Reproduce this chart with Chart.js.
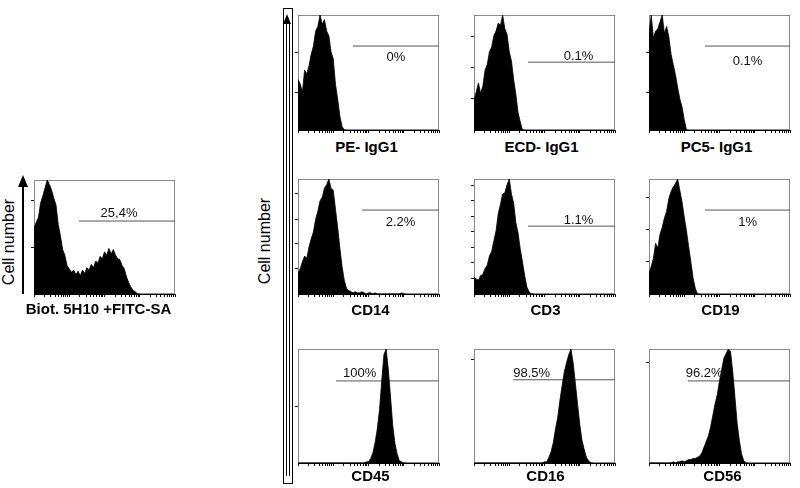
<!DOCTYPE html>
<html lang="en">
<head>
<meta charset="UTF-8">
<title>5H10 staining histograms</title>
<script src="https://cdn.jsdelivr.net/npm/chart.js@4.4.0/dist/chart.umd.min.js"></script>
<style>
  body { margin: 0; background: #fff; font-family: "Liberation Sans", Arial, sans-serif; color: #000; }
  #fig { position: relative; width: 800px; height: 488px; overflow: hidden; background: #fff; }
  canvas { position: absolute; }
  .xlab { position: absolute; font-size: 15px; font-weight: bold; white-space: nowrap; transform: translateX(-50%); line-height: 16px; }
  .ylab { position: absolute; font-size: 16px; white-space: nowrap; line-height: 16px; transform: translate(-50%, -50%) rotate(-90deg); }
  .blk { position: absolute; background: #000; }
  .head { position: absolute; width: 0; height: 0; border-left: 5px solid transparent; border-right: 5px solid transparent; border-bottom: 12px solid #000; }
  .box { position: absolute; border: 1.5px solid #000; box-sizing: border-box; }
  .shaft { position: absolute; border-left: 1px solid #000; border-right: 1px solid #000; box-sizing: border-box; }
</style>
</head>
<body>
<div id="fig">
  <div class="ylab" style="left:9px; top:242px;">Cell number</div>
  <div class="head" style="left:18px; top:175px;"></div>
  <div class="blk" style="left:22px; top:186px; width:2px; height:108px;"></div>

  <div class="ylab" style="left:265px; top:241px;">Cell number</div>
  <div class="box" style="left:283px; top:8px; width:10px; height:476px;"></div>
  <div class="head" style="left:283px; top:14px; border-left-width:4.5px; border-right-width:4.5px; border-bottom-width:10px;"></div>
  <div class="shaft" style="left:286px; top:24px; width:4px; height:452px;"></div>
</div>
<script>
// histogram counts per log channel bin (16 bins per decade, 4 decades), scaled to peak = 100
const hLeft = [58, 63, 67, 80, 86, 93, 100, 96, 91, 84, 78, 61, 51, 39, 34, 25, 22, 19, 21, 17, 20, 16, 21, 18, 23, 21, 26, 23, 29, 27, 33, 31, 37, 34, 40, 35, 39, 34, 31, 30, 25, 22, 15, 10, 6, 3, 2, 0];
const hPE = [44, 40, 33, 52, 49, 56, 66, 73, 86, 90, 100, 92, 96, 86, 82, 68, 62, 40, 27, 12, 3, 0];
const hECD = [26, 33, 41, 32, 38, 52, 57, 68, 72, 82, 86, 93, 91, 100, 88, 83, 68, 60, 44, 31, 15, 7, 0];
const hPC5 = [84, 100, 80, 86, 88, 94, 100, 84, 90, 81, 66, 57, 48, 37, 27, 20, 9, 0];
const hCD14 = [18, 22, 28, 33, 31, 41, 48, 54, 65, 72, 81, 84, 92, 95, 100, 92, 90, 74, 58, 40, 24, 12, 5, 3, 2, 1, 2, 1, 1, 2, 1, 0, 1, 1, 0, 1, 0, 0, 0, 0, 0, 0, 0, 0, 0, 0, 0, 1, 0];
const hCD3 = [15, 13, 12, 16, 17, 22, 25, 33, 37, 46, 55, 70, 78, 87, 88, 95, 100, 87, 79, 62, 53, 39, 28, 16, 6, 2, 0];
const hCD19 = [18, 24, 31, 44, 40, 52, 58, 66, 72, 83, 89, 93, 96, 100, 90, 80, 67, 55, 41, 28, 14, 5, 0];
const hCD45 = [0, 0, 0, 0, 0, 0, 0, 0, 0, 0, 0, 0, 0, 0, 0, 0, 0, 0, 0, 0, 0, 0, 0, 0, 0, 0, 0, 0, 0, 0, 0, 1, 1, 4, 9, 18, 30, 47, 72, 95, 100, 82, 58, 33, 17, 8, 2, 1, 0];
const hCD16 = [0, 0, 0, 0, 0, 0, 0, 0, 0, 0, 0, 0, 0, 0, 0, 0, 0, 0, 0, 0, 0, 0, 0, 0, 0, 0, 0, 0, 0, 0, 0, 0, 1, 1, 5, 10, 18, 30, 40, 55, 68, 80, 88, 95, 100, 88, 70, 52, 34, 20, 12, 5, 2, 0];
const hCD56 = [0, 0, 0, 0, 0, 0, 0, 0, 0, 0, 0, 1, 0, 1, 1, 2, 1, 2, 3, 3, 4, 4, 5, 6, 9, 14, 19, 24, 32, 42, 52, 60, 72, 82, 92, 96, 100, 98, 80, 58, 35, 20, 8, 2, 0];

const markers = ['Biot. 5H10 +FITC-SA', 'PE- IgG1', 'ECD- IgG1', 'PC5- IgG1', 'CD14', 'CD3', 'CD19', 'CD45', 'CD16', 'CD56'];
const percents = ['25,4%', '0%', '0.1%', '0.1%', '2.2%', '1.1%', '1%', '100%', '98.5%', '96.2%'];
const gateStarts = [19, 36, 34, 39, 66, 34, 39, 12, 13, 12.6];   // fluorescence value where the marker starts
const gateLevels = [64, 73, 59, 73, 73, 59, 73, 72, 73, 72];     // height of marker line (% of peak)
const yTickSets = [[41, 82], [33, 67], [27, 54, 81], [33, 67], [22, 44, 65, 87],
  [13.5, 27, 40.5, 54, 67.5, 81, 94.5], [28, 56, 84], [50], [91], [88]];
const xTickValues = [1, 2, 3, 4, 5, 6, 7, 8, 9, 10, 20, 30, 40, 50, 60, 70, 80, 90,
  100, 200, 300, 400, 500, 600, 700, 800, 900, 1000, 2000, 3000, 4000, 5000, 6000, 7000, 8000, 9000, 10000];
const hists = [hLeft, hPE, hECD, hPC5, hCD14, hCD3, hCD19, hCD45, hCD16, hCD56];
const BINS_PER_DECADE = 16;

// layout: plot area boxes and label placement
const boxes = [
  { l: 34, t: 180, w: 141, h: 114, labY: 301, labDx: -6 },
  { l: 298, t: 15, w: 141, h: 115, labY: 139, labDx: -2 },
  { l: 474, t: 15, w: 141, h: 115, labY: 139, labDx: -3 },
  { l: 649, t: 15, w: 141, h: 115, labY: 139, labDx: -3 },
  { l: 298, t: 179, w: 141, h: 115, labY: 302, labDx: 2 },
  { l: 474, t: 179, w: 141, h: 115, labY: 302, labDx: 1 },
  { l: 649, t: 179, w: 141, h: 115, labY: 302, labDx: 1 },
  { l: 298, t: 349, w: 141, h: 114, labY: 468, labDx: 2 },
  { l: 474, t: 349, w: 141, h: 114, labY: 468, labDx: 1 },
  { l: 649, t: 349, w: 141, h: 114, labY: 468, labDx: 3 }
];
const labelStyles = [
  { align: 'center', dx: -8, dy: -8 },
  { align: 'center', dx: 0, dy: 11 },
  { align: 'center', dx: 7, dy: -6 },
  { align: 'center', dx: 0, dy: 15 },
  { align: 'center', dx: 0, dy: 12 },
  { align: 'center', dx: 7, dy: -6 },
  { align: 'center', dx: 0, dy: 12 },
  { align: 'left', dx: 7, dy: -7 },
  { align: 'left', dx: 0, dy: -6 },
  { align: 'left', dx: -2, dy: -7 }
];

const PAD_L = 8, PAD_T = 4, PAD_R = 4, PAD_B = 8;

const framePlugin = {
  id: 'frame',
  beforeDatasetsDraw(chart) {
    const a = chart.chartArea, ctx = chart.ctx;
    ctx.save();
    ctx.strokeStyle = '#8a8a8a';
    ctx.lineWidth = 1;
    ctx.strokeRect(a.left + 0.5, a.top + 0.5, a.right - a.left - 1, a.bottom - a.top - 1);
    ctx.restore();
  },
  afterDatasetsDraw(chart, args, opts) {
    const ctx = chart.ctx;
    const x0 = chart.scales.x.getPixelForValue(opts.start);
    const x1 = chart.chartArea.right;
    const y = chart.scales.y.getPixelForValue(opts.level);
    ctx.save();
    ctx.font = '13px "Liberation Sans", Arial, sans-serif';
    ctx.fillStyle = '#111';
    ctx.textAlign = opts.align;
    ctx.textBaseline = 'middle';
    const tx = opts.align === 'left' ? x0 + opts.dx : (x0 + x1) / 2 + opts.dx;
    ctx.fillText(opts.text, tx, y + opts.dy);
    ctx.restore();
  }
};

const fig = document.getElementById('fig');

hists.forEach((hist, i) => {
  const b = boxes[i];
  const cv = document.createElement('canvas');
  cv.width = b.w + PAD_L + PAD_R;
  cv.height = b.h + PAD_T + PAD_B;
  cv.style.left = (b.l - PAD_L) + 'px';
  cv.style.top = (b.t - PAD_T) + 'px';
  fig.appendChild(cv);

  const lab = document.createElement('div');
  lab.className = 'xlab';
  lab.textContent = markers[i];
  lab.style.left = (b.l + b.w / 2 + b.labDx) + 'px';
  lab.style.top = b.labY + 'px';
  fig.appendChild(lab);

  const pts = hist.map((v, k) => ({ x: Math.pow(10, k / BINS_PER_DECADE), y: v }));
  pts.push({ x: Math.pow(10, hist.length / BINS_PER_DECADE), y: 0 });

  new Chart(cv, {
    type: 'line',
    data: {
      datasets: [
        { data: pts, fill: 'origin', backgroundColor: '#000', borderColor: '#000', borderWidth: 0.8, pointRadius: 0, tension: 0 },
        { data: [{ x: gateStarts[i], y: gateLevels[i] }, { x: 10000, y: gateLevels[i] }], borderColor: '#555', borderWidth: 1, pointRadius: 0, fill: false }
      ]
    },
    options: {
      responsive: false,
      animation: false,
      devicePixelRatio: 1,
      events: [],
      layout: { padding: { left: 0, top: PAD_T, right: PAD_R, bottom: 0 } },
      plugins: {
        legend: { display: false },
        tooltip: { enabled: false },
        frame: Object.assign({ start: gateStarts[i], level: gateLevels[i], text: percents[i] }, labelStyles[i])
      },
      scales: {
        x: {
          type: 'logarithmic', min: 1, max: 10000,
          afterBuildTicks: s => { s.ticks = xTickValues.map(v => ({ value: v })); },
          afterFit: s => { s.height = PAD_B; },
          ticks: { display: false },
          grid: { drawOnChartArea: false, drawTicks: true, tickLength: 3, color: '#000', lineWidth: 1 },
          border: { display: true, color: '#000', width: 1 }
        },
        y: {
          min: 0, max: 100,
          afterBuildTicks: s => { s.ticks = yTickSets[i].map(v => ({ value: v })); },
          afterFit: s => { s.width = PAD_L; },
          ticks: { display: false },
          grid: { drawOnChartArea: false, drawTicks: true, tickLength: 3, color: '#000', lineWidth: 1 },
          border: { display: true, color: '#000', width: 1 }
        }
      }
    },
    plugins: [framePlugin]
  });
});
</script>
</body>
</html>
